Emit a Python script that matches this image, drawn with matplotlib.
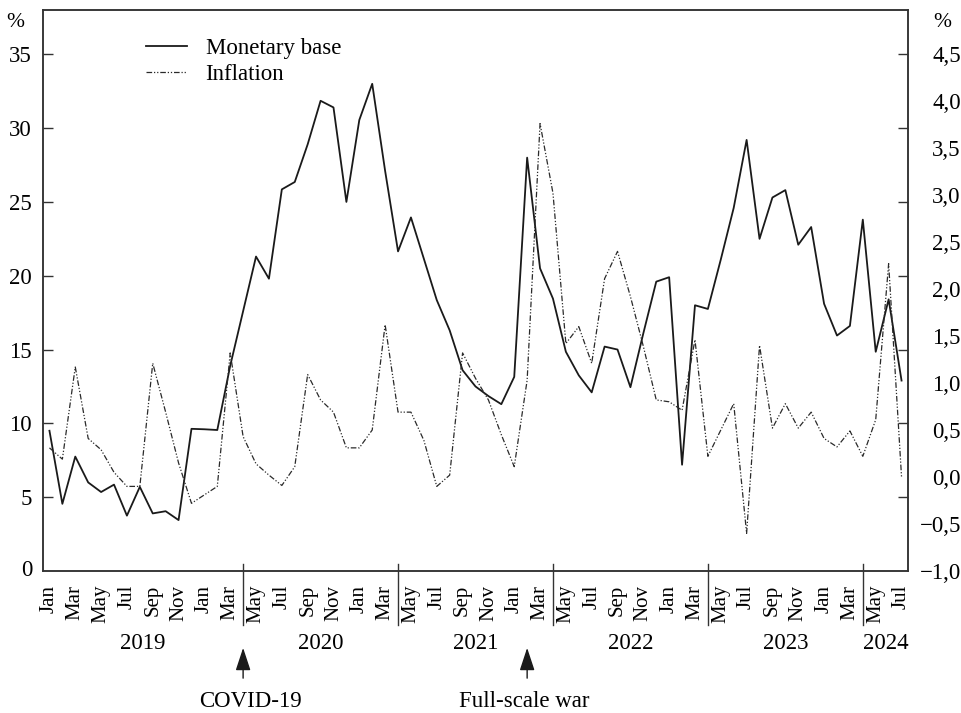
import matplotlib
matplotlib.use("Agg")
import matplotlib.pyplot as plt
import matplotlib.transforms as mtransforms
from matplotlib.lines import Line2D

plt.rcParams['font.family'] = ['Liberation Serif', 'DejaVu Serif']
FS = 16.5
plt.rcParams['font.size'] = FS

# ---------------- data ----------------
month_names = ['Jan', 'Feb', 'Mar', 'Apr', 'May', 'Jun',
               'Jul', 'Aug', 'Sep', 'Oct', 'Nov', 'Dec']
years = ['2019', '2020', '2021', '2022', '2023', '2024']

monetary_base = [9.5, 4.55, 7.75, 6.0, 5.35, 5.85, 3.75, 5.7, 3.9, 4.05, 3.45, 9.63,
                 9.6, 9.55, 13.9, 17.6, 21.3, 19.8, 25.85, 26.35, 28.9, 31.85, 31.4, 25.0,
                 30.55, 33.0, 27.1, 21.65, 23.95, 21.15, 18.35, 16.3, 13.6, 12.5, 11.85, 11.3,
                 13.15, 28.0, 20.5, 18.45, 14.85, 13.25, 12.1, 15.2, 15.0, 12.45, 16.1, 19.6,
                 19.9, 7.2, 18.0, 17.75, 21.1, 24.6, 29.2, 22.5, 25.3, 25.8, 22.1, 23.3,
                 18.1, 15.95, 16.6, 23.8, 14.85, 18.4, 12.9]

inflation = [0.31, 0.19, 1.17, 0.41, 0.29, 0.05, -0.10, -0.10, 1.21, 0.69, 0.15, -0.28,
             -0.19, -0.10, 1.32, 0.43, 0.14, 0.02, -0.09, 0.11, 1.09, 0.82, 0.69, 0.31,
             0.31, 0.50, 1.62, 0.69, 0.69, 0.39, -0.10, 0.02, 1.32, 1.05, 0.82, 0.45,
             0.11, 1.03, 3.76, 3.02, 1.42, 1.60, 1.21, 2.11, 2.40, 1.92, 1.39, 0.82,
             0.80, 0.71, 1.46, 0.22, 0.50, 0.78, -0.60, 1.40, 0.52, 0.78, 0.52, 0.69,
             0.41, 0.32, 0.49, 0.22, 0.61, 2.27, 0.0]

left_ticks = [0, 5, 10, 15, 20, 25, 30, 35]
right_ticks = [-1.0, -0.5, 0.0, 0.5, 1.0, 1.5, 2.0, 2.5, 3.0, 3.5, 4.0, 4.5]

# year group boundaries (month index) and events
year_bounds = [15, 27, 39, 51, 63]
events = [('COVID-19', 15), ('Full-scale war', 37)]

# ---------------- figure ----------------
n = len(monetary_base)
x = list(range(n))

fig = plt.figure(figsize=(9.62, 7.13), dpi=100)
ax = fig.add_axes([43 / 962, 1 - 571 / 713, 865 / 962, 561 / 713])
ax2 = ax.twinx()

ink = '#1a1a1a'
ax.plot(x, monetary_base, color=ink, lw=1.3, label='Monetary base', zorder=3)
ax2.plot(x, inflation, color='#2a2a2a', lw=0.9,
         linestyle=(0, (4.5, 1.5, 1, 1.5, 1, 1.5)), label='Inflation', zorder=2)

ax.set_xlim(-0.5, n - 0.5)
ax.set_ylim(0, 38)
left_px_per_unit = 561 / 38
ax2.set_ylim(-1, -1 + 38 * left_px_per_unit / 94)

for a in (ax, ax2):
    for s in a.spines.values():
        s.set_linewidth(1.1)
        s.set_color('#333333')

# left axis ticks (inward), mirrored tick marks on right
ax.set_yticks(left_ticks[1:])
ax.set_yticklabels([str(v) for v in left_ticks[1:]])
ax.tick_params(axis='y', direction='in', length=7, width=1.0, pad=8,
               right=True, labelright=False, color='#333333')
ax.text(-0.012, 0, '0', transform=mtransforms.blended_transform_factory(ax.transAxes, ax.transData),
        ha='right', va='center', fontsize=FS)

# right axis labels (no tick marks)
ax2.set_yticks(right_ticks)
ax2.set_yticklabels([('\u2212' if v < 0 else '') + f'{abs(v):.1f}'.replace('.', ',') for v in right_ticks])
ax2.tick_params(axis='y', length=0, pad=38)
for lab in ax2.get_yticklabels():
    lab.set_horizontalalignment('right')

# % labels
ax.text(-0.022, 0.978, '%', transform=ax.transAxes, ha='right', va='center', fontsize=FS - 1)
ax.text(1.04, 0.978, '%', transform=ax.transAxes, ha='center', va='center', fontsize=FS - 1)

# x ticks: every other month
xt = list(range(0, n, 2))
ax.set_xticks(xt)
ax.set_xticklabels([month_names[i % 12] for i in xt], rotation=90, va='top', ha='center',
                   fontsize=15)
ax.tick_params(axis='x', length=0, pad=10)

# year separators and labels
trans = mtransforms.blended_transform_factory(ax.transData, ax.transAxes)
for b in year_bounds:
    ax.add_line(Line2D([b, b], [0.0125, -0.096], transform=trans, color='#333333',
                       lw=1.0, clip_on=False))
edges = [-0.5] + year_bounds + [n - 0.5]
for i, yr in enumerate(years):
    ax.text((edges[i] + edges[i + 1]) / 2, -0.129, yr, transform=trans,
            ha='center', va='center', fontsize=FS)

# event arrows
for label, pos in events:
    ax.annotate('', xy=(pos, -0.137), xycoords=trans, xytext=(pos, -0.191), textcoords=trans,
                arrowprops=dict(arrowstyle='-|>,head_length=1.0,head_width=0.33',
                                color='#1a1a1a', lw=1.0, shrinkA=0, shrinkB=0),
                fontsize=14, annotation_clip=False)
    ax.text(pos + 0.6 if pos < 20 else pos - 0.2, -0.2335, label, transform=trans,
            ha='center', va='center', fontsize=FS)

# legend
h1, l1 = ax.get_legend_handles_labels()
h2, l2 = ax2.get_legend_handles_labels()
leg = ax2.legend(h1 + h2, l1 + l2, loc='upper left', bbox_to_anchor=(0.119, 0.951),
                 frameon=False, borderpad=0, borderaxespad=0, handlelength=1.8,
                 handletextpad=0.8, labelspacing=0.22, fontsize=FS)

fig.savefig('out.png', dpi=100)
